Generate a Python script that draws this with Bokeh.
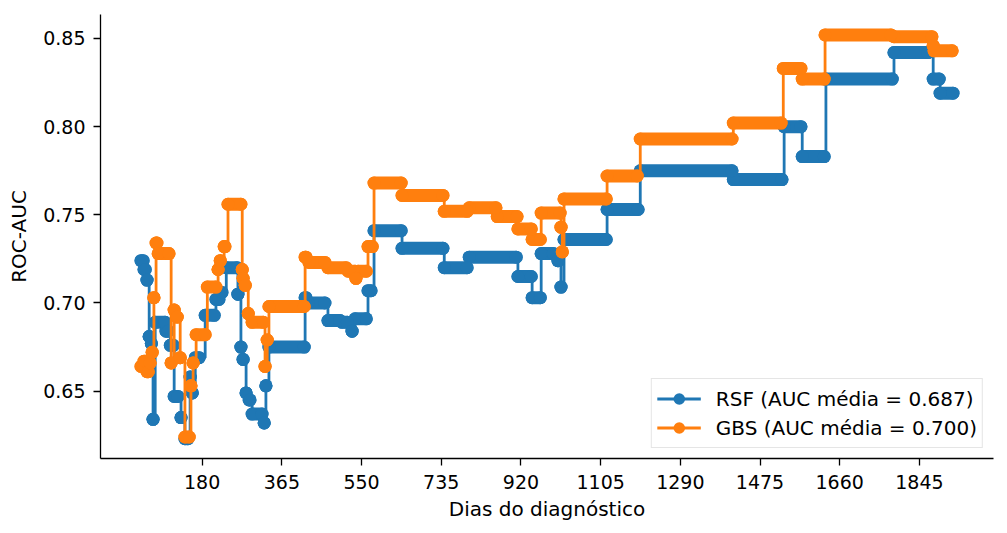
from bokeh.plotting import figure
from bokeh.models import Range1d, FixedTicker, Legend, LegendItem, NumeralTickFormatter
from bokeh.embed import file_html
from bokeh.resources import INLINE

# ticks
day_ticks = [180, 365, 550, 735, 920, 1105, 1290, 1475, 1660, 1845]
auc_ticks = [0.65, 0.70, 0.75, 0.80, 0.85]

# RSF: runs of evaluation times sharing the same AUC (first day, last day, AUC)
rsf_start = [38, 45, 52, 57, 62, 66, 71, 96, 106, 115, 131, 140, 152, 157, 164,
             187, 212, 222, 236, 263, 270, 275, 282, 289, 296, 324, 328, 335,
             419, 426, 472, 505, 528, 535, 565, 579, 644, 742, 800, 913, 946,
             967, 1006, 1013, 1020, 1120, 1197, 1413, 1531, 1573, 1628, 1786,
             1877, 1893]
rsf_end = [43, 48, 52, 57, 62, 66, 94, 101, 113, 124, 131, 147, 152, 157, 173,
           208, 219, 226, 261, 263, 270, 275, 282, 291, 319, 324, 328, 417,
           421, 465, 500, 517, 528, 561, 572, 642, 739, 795, 909, 944, 965,
           995, 1006, 1013, 1118, 1192, 1410, 1526, 1570, 1624, 1782, 1865,
           1891, 1923]
rsf_auc = [0.724, 0.719, 0.713, 0.681, 0.677, 0.634, 0.689, 0.684, 0.676, 0.647,
           0.635, 0.623, 0.658, 0.649, 0.669, 0.693, 0.702, 0.706, 0.720, 0.705,
           0.675, 0.668, 0.649, 0.645, 0.637, 0.632, 0.653, 0.675, 0.703, 0.700,
           0.690, 0.689, 0.684, 0.691, 0.707, 0.741, 0.731, 0.720, 0.726, 0.715,
           0.703, 0.728, 0.724, 0.709, 0.736, 0.753, 0.775, 0.770, 0.800, 0.783,
           0.827, 0.842, 0.827, 0.819]

# GBS
gbs_start = [38, 45, 52, 59, 64, 68, 73, 78, 108, 115, 122, 129, 140, 154, 159,
             166, 192, 217, 222, 231, 240, 273, 275, 280, 287, 296, 326, 331,
             335, 419, 428, 472, 519, 537, 542, 565, 579, 644, 742, 800, 865,
             913, 946, 967, 1013, 1016, 1020, 1120, 1197, 1413, 1529, 1573,
             1626, 1786, 1877, 1879]
gbs_end = [43, 48, 55, 59, 64, 68, 75, 103, 108, 115, 122, 129, 150, 154, 159,
           187, 212, 217, 222, 233, 270, 273, 275, 280, 287, 322, 326, 331,
           417, 421, 465, 514, 535, 537, 561, 575, 642, 739, 795, 862, 911,
           944, 965, 1011, 1013, 1016, 1118, 1190, 1410, 1524, 1570, 1624,
           1779, 1874, 1877, 1921]
gbs_auc = [0.664, 0.667, 0.661, 0.666, 0.672, 0.703, 0.734, 0.728, 0.666, 0.696,
           0.692, 0.669, 0.624, 0.653, 0.666, 0.682, 0.709, 0.719, 0.724, 0.732,
           0.756, 0.719, 0.714, 0.710, 0.694, 0.689, 0.664, 0.679, 0.698, 0.726,
           0.723, 0.720, 0.718, 0.714, 0.718, 0.732, 0.768, 0.761, 0.752, 0.754,
           0.749, 0.742, 0.736, 0.751, 0.743, 0.729, 0.759, 0.772, 0.793, 0.802,
           0.833, 0.827, 0.852, 0.851, 0.846, 0.843]

labels = ["RSF (AUC média = 0.687)", "GBS (AUC média = 0.700)"]
colors = ["#1f77b4", "#ff7f0e"]
FONT = "DejaVu Sans"

p = figure(width=1007, height=533, output_backend="svg", toolbar_location=None,
           x_range=Range1d(-56, 2017), y_range=Range1d(0.6118, 0.8636),
           min_border_left=100, min_border_right=14, min_border_top=14,
           min_border_bottom=75)

items = []
series = [(rsf_start, rsf_end, rsf_auc), (gbs_start, gbs_end, gbs_auc)]
for (starts, ends, aucs), color, label in zip(series, colors, labels):
    xs, ys = [], []
    for s, e, a in zip(starts, ends, aucs):
        xs += [s, e]
        ys += [a, a]
    line = p.step(xs, ys, mode="after", line_color=color, line_width=2.8)
    # dense markers merge into rounded bars
    p.segment(x0=starts, y0=aucs, x1=ends, y1=aucs, line_color=color,
              line_width=13, line_cap="round")
    dots = p.scatter(starts + ends, aucs + aucs, marker="circle", size=13,
                     fill_color=color, line_color=None)
    items.append(LegendItem(label=label, renderers=[line, dots]))

legend = Legend(items=items, location="bottom_right")
legend.label_text_font = FONT
legend.label_text_font_size = "20px"
legend.label_text_color = "black"
legend.glyph_width = 44
legend.glyph_height = 29
legend.label_standoff = 15
legend.spacing = 0
legend.padding = 5
legend.margin = 10
legend.border_line_color = "#cccccc"
legend.border_line_width = 1
legend.background_fill_alpha = 0.8
p.add_layout(legend)

p.xaxis.ticker = FixedTicker(ticks=day_ticks)
p.yaxis.ticker = FixedTicker(ticks=auc_ticks)
p.yaxis.formatter = NumeralTickFormatter(format="0.00")
p.xaxis.axis_label = "Dias do diagnóstico"
p.yaxis.axis_label = "ROC-AUC"
for ax in (p.xaxis[0], p.yaxis[0]):
    ax.major_tick_out = 7
    ax.major_tick_in = 0
    ax.minor_tick_out = 0
    ax.minor_tick_in = 0
    ax.axis_line_color = "black"
    ax.axis_line_width = 1.3
    ax.major_tick_line_color = "black"
    ax.major_tick_line_width = 1.3
    ax.major_label_text_font = FONT
    ax.major_label_text_font_size = "19px"
    ax.major_label_text_color = "black"
    ax.axis_label_text_font = FONT
    ax.axis_label_text_font_size = "20px"
    ax.axis_label_text_font_style = "normal"
    ax.axis_label_text_color = "black"
p.xaxis.major_label_standoff = 9
p.xaxis.axis_label_standoff = 5
p.yaxis.major_label_standoff = 8
p.yaxis.axis_label_standoff = 9

p.grid.visible = False
p.outline_line_color = None

open("out.html", "w").write(file_html(p, INLINE))
